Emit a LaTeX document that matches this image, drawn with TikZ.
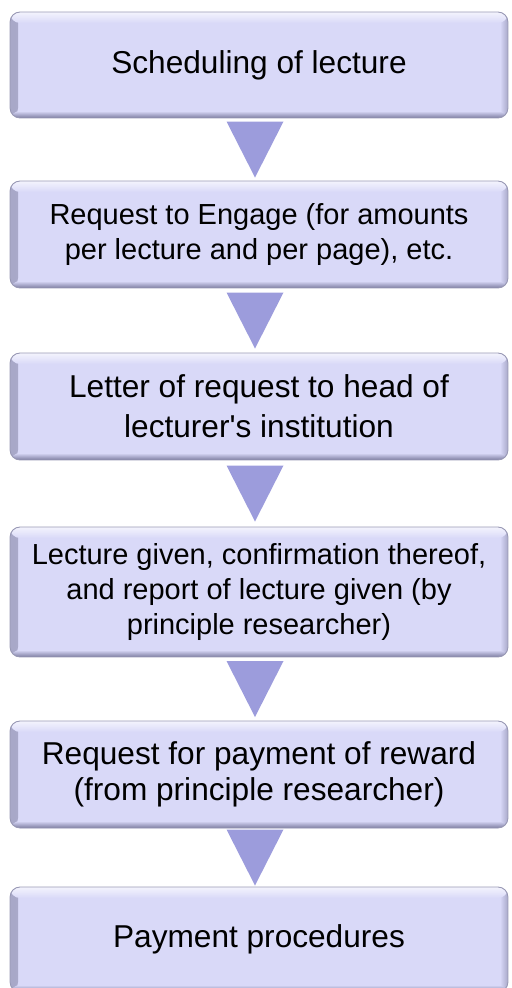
\documentclass[tikz,border=0pt]{standalone}
\usepackage{fontspec}
\setmainfont{Liberation Sans}
\usetikzlibrary{calc}
\definecolor{boxfill}{HTML}{D9D9F8}
\definecolor{boxside}{HTML}{A8A8C8}
\definecolor{boxbottom}{HTML}{7C7CA0}
\definecolor{boxedge}{HTML}{9898B4}
\definecolor{arrowfill}{HTML}{9C9CDC}

\begin{document}
\begin{tikzpicture}[
  x=0.02cm, y=-0.02cm,
  stepbox/.style={rectangle, rounded corners=0.2cm, fill=boxfill, draw=boxedge, line width=0.5pt,
    minimum width=9.96cm, inner sep=0pt, align=center,
    path picture={
      \shade[left color=boxside, right color=boxfill] (path picture bounding box.south west) rectangle ([xshift=0.16cm]path picture bounding box.north west);
      \shade[left color=boxfill, right color=boxside] ([xshift=-0.16cm]path picture bounding box.south east) rectangle (path picture bounding box.north east);
      \shade[top color=white!70!boxfill, bottom color=boxfill] (path picture bounding box.north west) rectangle ([yshift=-0.22cm]path picture bounding box.north east);
      \shade[top color=boxfill, bottom color=boxbottom] ([yshift=0.14cm]path picture bounding box.south west) rectangle (path picture bounding box.south east);
    }},
  bigtext/.style={font=\fontsize{18}{#1}\selectfont},
  smalltext/.style={font=\fontsize{16.5}{20}\selectfont},
  arrowtri/.style={fill=arrowfill},
]
\useasboundingbox (0,0) rectangle (511,988);

\node[stepbox, bigtext=21, minimum height=2.12cm] (sched) at (259,65) {Scheduling of lecture};
\node[stepbox, smalltext, minimum height=2.14cm] (engage) at (259,234.5) {Request to Engage (for amounts\\per lecture and per page), etc.};
\node[stepbox, bigtext=22.7, minimum height=2.14cm] (letter) at (259,406.5) {Letter of request to head of\\lecturer\textquotesingle s institution};
\node[stepbox, smalltext, minimum height=2.6cm] (given) at (259,592) {Lecture given, confirmation thereof,\\and report of lecture given (by\\principle researcher)};
\node[stepbox, bigtext=20.8, minimum height=2.14cm] (payreq) at (259,774.5) {Request for payment of reward\\(from principle researcher)};
\node[stepbox, bigtext=21, minimum height=2.1cm] (payproc) at (259,939.5) {Payment procedures};

% down triangles between steps
\foreach \a/\b in {sched/engage, engage/letter, letter/given, given/payreq, payreq/payproc}
  \fill[arrowtri] ($(\a.south)!0.5!(\b.north)+(-32.5,-28)$) -- ($(\a.south)!0.5!(\b.north)+(24.5,-28)$) -- ($(\a.south)!0.5!(\b.north)+(-4,28)$) -- cycle;

\end{tikzpicture}
\end{document}
